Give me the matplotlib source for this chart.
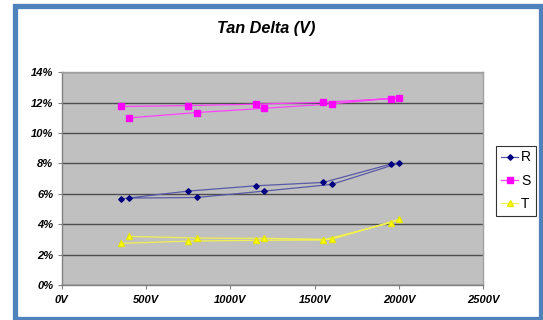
import matplotlib
matplotlib.use("Agg")
import matplotlib.pyplot as plt
from matplotlib.patches import Rectangle
from matplotlib.ticker import FuncFormatter, MultipleLocator

plt.rcParams['font.family'] = ['Liberation Sans', 'DejaVu Sans']

# Test voltages in the order they were applied (ramp up, then back down)
voltages = [350, 750, 1150, 1550, 1950, 2000, 1600, 1200, 800, 400]

# Tan delta (%) per phase at each voltage
tan_r = [5.67, 6.18, 6.53, 6.75, 7.95, 8.02, 6.62, 6.18, 5.76, 5.72]
tan_s = [11.75, 11.81, 11.90, 12.03, 12.27, 12.34, 11.92, 11.63, 11.35, 11.00]
tan_t = [2.74, 2.89, 2.94, 2.96, 4.09, 4.32, 3.00, 3.07, 3.09, 3.20]

series_names = ['R', 'S', 'T']
title = 'Tan Delta (V)'

W, H = 543, 320
fig = plt.figure(figsize=(W / 100, H / 100), dpi=100)
fig.patch.set_facecolor('white')

# blue frame around the chart
fig.patches.append(Rectangle((14.5 / W, 1.5 / H), (541 - 14.5) / W, (H - 6 - 1.5) / H,
                             transform=fig.transFigure, fill=False,
                             edgecolor='#4F81BD', linewidth=3.8, zorder=0))

left, right, top, bottom = 61.7, 483.3, 72.3, 285.0
ax = fig.add_axes([left / W, 1 - bottom / H, (right - left) / W, (bottom - top) / H])
ax.set_facecolor('#C0C0C0')

styles = [
    dict(color='#5A5AA6', marker='D', markersize=2.8, markerfacecolor='#000080',
         markeredgecolor='#000080'),
    dict(color='#FF40FF', marker='s', markersize=4.3, markerfacecolor='#FF00FF',
         markeredgecolor='#FF00FF'),
    dict(color='#F0F050', marker='^', markersize=4.6, markerfacecolor='#FFFF00',
         markeredgecolor='#E6E600'),
]
for name, vals, st in zip(series_names, [tan_r, tan_s, tan_t], styles):
    ax.plot(voltages, vals, linewidth=0.9, label=name, zorder=3, **st)

ax.set_xlim(0, 2500)
ax.set_ylim(0, 14)
ax.xaxis.set_major_locator(MultipleLocator(500))
ax.yaxis.set_major_locator(MultipleLocator(2))
ax.xaxis.set_major_formatter(FuncFormatter(lambda v, p: f'{int(v)}V'))
ax.yaxis.set_major_formatter(FuncFormatter(lambda v, p: f'{int(v)}%'))

ax.grid(axis='y', color='#4D4D4D', linewidth=1.0)
ax.set_axisbelow(True)
for s in ['left', 'bottom']:
    ax.spines[s].set_color('#808080')
    ax.spines[s].set_linewidth(1.0)
for s in ['top', 'right']:
    ax.spines[s].set_color('#A0A0A0')
    ax.spines[s].set_linewidth(1.0)

ax.tick_params(axis='both', direction='out', length=3, width=0.8, color='#808080',
               labelsize=8)
ax.tick_params(axis='y', pad=3)
ax.tick_params(axis='x', pad=4)
for lbl in ax.get_xticklabels() + ax.get_yticklabels():
    lbl.set_fontweight('bold')
    lbl.set_fontstyle('italic')

fig.text(266 / W, 1 - 28 / H, title, ha='center', va='center', fontsize=11.7,
         fontweight='bold', fontstyle='italic')

leg = fig.legend(loc='upper left', bbox_to_anchor=(496 / W, 1 - 145.5 / H),
                 frameon=True, fancybox=False, edgecolor='black', fontsize=10,
                 handlelength=1.25, handletextpad=0.2, borderpad=0.35,
                 labelspacing=0.68, borderaxespad=0)
leg.get_frame().set_linewidth(0.8)

fig.savefig('out.png', dpi=100)
